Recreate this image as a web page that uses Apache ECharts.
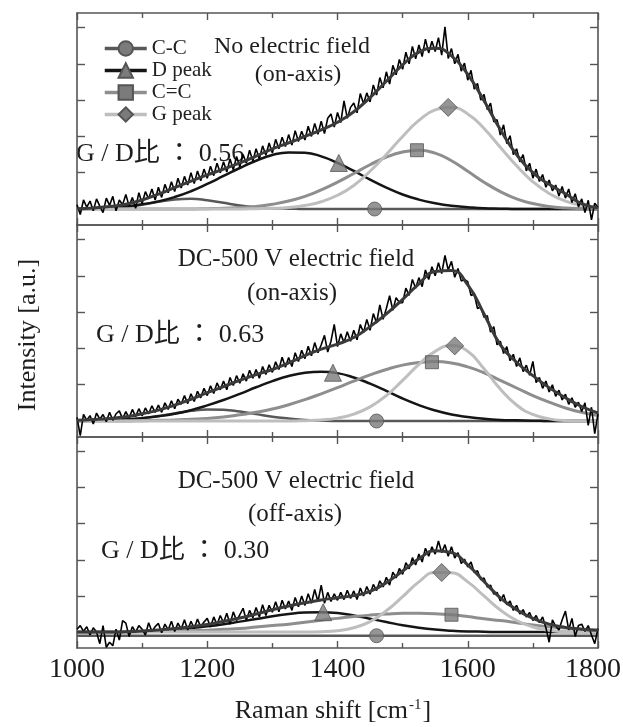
<!DOCTYPE html>
<html><head><meta charset="utf-8">
<script src="https://cdn.jsdelivr.net/npm/echarts@6/dist/echarts.min.js"></script>
<style>html,body{margin:0;padding:0;background:#fff}#c{width:623px;height:727px}</style>
</head><body><div id="c"></div>
<script>
// sample positions (Raman shift, cm-1)
const fitX = []; for (let x = 1000; x <= 1800; x += 25) fitX.push(x);
const specX = []; for (let x = 1000; x <= 1800; x += 5) specX.push(x);
const xTickLabels = [1000, 1200, 1400, 1600, 1800];
const legendNames = ['C-C', 'D peak', 'C=C', 'G peak'];

// ---------- panel 1 : No electric field (on-axis) ----------
const ccTop  = [0.00,0.01,0.03,0.06,0.12,0.20,0.26,0.28,0.24,0.17,0.10,0.05,0.02,0.01,0,0,0,0,0,0,0,0,0,0,0,0,0,0,0,0,0,0,0];
const dTop   = [0.01,0.02,0.04,0.07,0.13,0.21,0.33,0.49,0.69,0.91,1.13,1.33,1.49,1.56,1.55,1.45,1.27,1.05,0.81,0.59,0.40,0.26,0.16,0.09,0.05,0.02,0.01,0,0,0,0,0,0];
const ccdTop = [0,0,0,0,0,0,0,0,0.01,0.02,0.04,0.07,0.13,0.22,0.35,0.53,0.74,0.98,1.22,1.43,1.57,1.62,1.54,1.33,1.04,0.74,0.48,0.28,0.15,0.07,0.03,0.01,0];
const gTop   = [0,0,0,0,0,0,0,0,0,0,0,0.01,0.02,0.04,0.10,0.20,0.38,0.65,1.04,1.50,2.00,2.44,2.73,2.80,2.62,2.22,1.70,1.19,0.75,0.43,0.22,0.10,0.05];
const fitTop = [0.01,0.03,0.07,0.13,0.25,0.41,0.59,0.77,0.94,1.10,1.27,1.46,1.66,1.82,2.00,2.18,2.39,2.68,3.07,3.52,3.97,4.32,4.43,4.22,3.71,2.98,2.19,1.50,1.00,0.68,0.42,0.15,0.03];
const specTop = [0.12,-0.15,0.25,0.05,0.22, -0.05,0.28,0.08,-0.1,0.3, 0.1,0.35,-0.05,0.25,0.12, 0.4,0.08,0.32,0.02,0.45,
  0.15,0.48,0.28,0.55,0.25, 0.6,0.32,0.68,0.45,0.75, 0.48,0.85,0.58,0.9,0.66, 1.0,0.7,1.05,0.78,1.1,
  0.85,1.18,0.92,1.26,1.0, 1.3,1.02,1.38,1.08,1.45, 1.16,1.5,1.26,1.62,1.32, 1.66,1.38,1.74,1.48,1.82,
  1.54,1.92,1.66,1.98,1.72, 2.05,1.76,2.16,1.86,2.14, 1.9,2.28,2.0,2.36,2.06, 2.42,2.08,2.5,2.62,2.26,
  2.66,2.38,2.98,2.5,2.8, 2.92,2.65,3.18,2.9,3.2, 2.95,3.42,3.14,3.62,3.34, 3.78,3.44,3.96,3.7,4.12,
  3.85,4.32,4.0,4.48,4.14, 4.52,4.2,4.68,4.3,4.62, 4.34,4.72,4.24,5.02,4.15, 4.42,4.0,4.26,3.8,4.02,
  3.55,3.82,3.3,3.46,3.0, 3.16,2.74,2.92,2.4,2.46, 2.04,2.32,1.8,2.02,1.5, 1.66,1.3,1.5,1.05,1.26,
  0.85,1.1,0.76,0.95,0.6, 0.8,0.5,0.66,0.36,0.62, 0.3,0.55,0.18,0.42,0.06, 0.28,-0.1,0.24,-0.3,0.16, 0.04];
const marksTop = {'C-C':[1457,0], 'D peak':[1402,1.27], 'C=C':[1522,1.62], 'G peak':[1570,2.80]};

// ---------- panel 2 : DC-500 V (on-axis) ----------
const ccMid  = [0.00,0.01,0.02,0.04,0.08,0.14,0.21,0.28,0.32,0.31,0.26,0.19,0.12,0.07,0.03,0.01,0,0,0,0,0,0,0,0,0,0,0,0,0,0,0,0,0];
const dMid   = [0.01,0.01,0.03,0.05,0.08,0.13,0.20,0.30,0.43,0.58,0.75,0.93,1.10,1.24,1.33,1.36,1.32,1.20,1.03,0.83,0.62,0.44,0.29,0.18,0.11,0.06,0.03,0.02,0.01,0,0,0,0];
const ccdMid = [0,0,0,0,0.01,0.02,0.03,0.05,0.07,0.11,0.17,0.24,0.33,0.45,0.59,0.75,0.92,1.10,1.27,1.42,1.54,1.61,1.64,1.60,1.49,1.33,1.12,0.91,0.70,0.52,0.36,0.24,0.15];
const gMid   = [0,0,0,0,0,0,0,0,0,0,0,0,0,0,0.01,0.03,0.08,0.19,0.39,0.70,1.12,1.56,1.92,2.08,1.92,1.44,0.88,0.44,0.18,0.06,0.01,0,0];
const fitMid = [0.02,0.04,0.07,0.12,0.20,0.30,0.44,0.60,0.78,0.95,1.12,1.28,1.42,1.60,1.80,1.98,2.12,2.30,2.60,2.95,3.35,3.78,4.12,4.15,3.75,2.95,2.10,1.62,1.25,0.92,0.64,0.40,0.22];
const specMid = [0.1,-0.4,0.18,0.02,0.15, -0.08,0.22,0.05,0.18,-0.02, 0.24,0.02,0.2,0.28,0.06, 0.26,0.08,0.32,0.12,0.34,
  0.14,0.36,0.2,0.42,0.24, 0.44,0.24,0.5,0.32,0.56, 0.34,0.6,0.46,0.7,0.48, 0.75,0.54,0.82,0.64,0.9,
  0.7,0.97,0.76,1.05,0.86, 1.1,0.86,1.2,0.98,1.25, 1.04,1.3,1.1,1.4,1.18, 1.42,1.18,1.5,1.28,1.55,
  1.34,1.63,1.42,1.76,1.48, 1.75,1.5,1.88,1.64,1.95, 1.72,2.06,1.8,2.16,1.88, 2.1,2.36,1.9,2.2,2.66,
  2.05,2.4,2.16,2.46,2.2, 2.5,2.24,2.66,2.44,2.8, 2.5,2.96,2.7,3.2,2.8, 3.1,3.45,3.05,3.4,3.26,
  3.26,3.66,3.46,3.9,3.66, 3.95,3.7,4.16,3.9,4.25, 4.0,4.36,4.06,4.56,4.16, 4.4,3.96,4.2,3.86,3.9,
  3.84,3.46,3.5,3.1,3.14, 2.86,2.9,2.45,2.6,2.1, 2.2,1.86,2.05,1.66,1.84, 1.5,1.74,1.36,1.54,1.26,
  1.64,1.06,1.2,0.9,1.1, 0.8,1.0,0.68,0.85,0.58, 0.74,0.46,0.64,0.38,0.52, 0.26,0.5,-0.12,0.38,-0.35, 0.2];
const marksMid = {'C-C':[1460,0], 'D peak':[1393,1.33], 'C=C':[1545,1.62], 'G peak':[1580,2.07]};

// ---------- panel 3 : DC-500 V (off-axis) ----------
const ccBot  = [-0.1,-0.1,-0.1,-0.1,-0.1,-0.1,-0.1,-0.1,-0.1,-0.1,-0.1,-0.1,-0.1,-0.1,-0.1,-0.1,-0.1,-0.1,-0.1,-0.1,-0.1,-0.1,-0.1,-0.1,-0.1,-0.1,-0.1,-0.1,-0.1,-0.1,-0.1,-0.1,-0.1];
const dBot   = [0,0,0,0.01,0.02,0.04,0.07,0.11,0.16,0.22,0.29,0.36,0.44,0.50,0.54,0.55,0.53,0.46,0.37,0.28,0.19,0.12,0.07,0.04,0.02,0.01,0,0,0,0,0,0,0];
const ccdBot = [0,0,0,0,0.01,0.02,0.03,0.04,0.05,0.08,0.10,0.14,0.18,0.22,0.27,0.33,0.38,0.43,0.47,0.50,0.52,0.52,0.51,0.48,0.43,0.37,0.32,0.26,0.20,0.15,0.11,0.08,0.05];
const gBot   = [0,0,0,0,0,0,0,0,0,0,0,0,0,0,0,0.01,0.04,0.12,0.29,0.59,0.98,1.39,1.65,1.64,1.39,1.00,0.61,0.32,0.14,0.05,0.01,0,0];
const fitBot = [0,0,0,0.01,0.03,0.06,0.10,0.15,0.21,0.30,0.39,0.50,0.62,0.72,0.81,0.89,0.95,1.01,1.13,1.37,1.69,2.03,2.25,2.20,1.86,1.40,0.95,0.62,0.38,0.22,0.13,0.08,0.05];
const specBot = [0.08,0.18,0.02,0.15,-0.08, 0.12,0.0,-0.32,0.18,-0.42, -0.28,-0.38,0.08,-0.22,0.32, 0.25,-0.12,0.15,0.0,0.18,
  0.08,-0.08,0.26,0.02,0.15, 0.24,-0.02,0.22,0.06,0.3, 0.02,0.25,0.08,0.34,0.06, 0.3,0.1,0.36,0.14,0.28,
  0.38,0.14,0.42,0.2,0.46, 0.26,0.52,0.22,0.56,0.32, 0.48,0.66,0.32,0.6,0.4, 0.68,0.42,0.76,0.46,0.74,
  0.55,0.84,0.56,0.88,0.64, 0.86,0.6,0.96,0.7,1.0, 0.74,1.06,0.8,1.18,0.84, 1.3,0.8,1.1,0.85,1.06,
  0.88,1.1,0.9,1.16,0.93, 1.14,0.9,1.22,1.0,1.26, 1.05,1.32,1.15,1.42,1.25, 1.52,1.3,1.66,1.5,1.76,
  1.6,1.92,1.75,2.06,1.86, 2.16,1.94,2.32,2.1,2.36, 2.16,2.52,2.2,2.42,2.1, 2.36,2.05,2.2,1.9,2.02,
  1.8,1.94,1.65,1.7,1.45, 1.5,1.25,1.3,1.05,1.1, 0.86,1.04,0.76,0.86,0.6, 0.74,0.5,0.62,0.42,0.54,
  0.32,0.46,0.26,0.42,0.12, -0.28,0.34,0.16,0.06,0.34, 0.58,0.06,0.38,-0.12,0.18, 0.22,0.02,0.18,-0.08,-0.32, 0.1];
const marksBot = {'C-C':[1460,-0.1], 'D peak':[1378,0.55], 'C=C':[1575,0.48], 'G peak':[1560,1.65]};

const panels = [
  {cc:ccTop, d:dTop, ccd:ccdTop, g:gTop, fit:fitTop, spec:specTop, marks:marksTop},
  {cc:ccMid, d:dMid, ccd:ccdMid, g:gMid, fit:fitMid, spec:specMid, marks:marksMid},
  {cc:ccBot, d:dBot, ccd:ccdBot, g:gBot, fit:fitBot, spec:specBot, marks:marksBot}
];

const SERIF = '"Liberation Serif", "Times New Roman", serif';
const SERIF_CJK = '"Liberation Serif", "Noto Sans CJK JP", serif';
const FRAME = '#555555';
const compStyle = {
  'C-C':    {key:'cc',  color:'#585858', width:2.5, symbol:'circle',   size:14},
  'D peak': {key:'d',   color:'#151515', width:2.5, symbol:'triangle', size:17},
  'C=C':    {key:'ccd', color:'#8e8e8e', width:3,   symbol:'rect',     size:13},
  'G peak': {key:'g',   color:'#bebebe', width:3,   symbol:'diamond',  size:18}
};
const markerItem = {color:'#7b7b7b', borderColor:'#555', borderWidth:1};

const gridTops = [13, 225, 437];
const gridH = [212, 212, 211];
const grids = [], xAxes = [], yAxes = [], series = [];
const pair = (xs, ys) => xs.map((x, i) => [x, ys[i]]);

panels.forEach((p, i) => {
  grids.push({left:77, right:25, top:gridTops[i], height:gridH[i], outerBoundsMode:'none', containLabel:false});
  const xBase = {
    type:'value', gridIndex:i, min:1000, max:1800, interval:200,
    axisLine:{show:true, onZero:false, lineStyle:{color:FRAME, width:1.6}},
    axisTick:{show:true, inside:true, length:7, lineStyle:{color:FRAME, width:1.4}},
    minorTick:{show:true, splitNumber:2, length:5, lineStyle:{color:FRAME, width:1.4}},
    splitLine:{show:false}, minorSplitLine:{show:false}
  };
  xAxes.push(Object.assign({}, xBase, {
    position:'bottom',
    axisLabel:{show:i === 2, margin:8, fontSize:28, fontFamily:SERIF, color:'#1a1a1a',
      customValues: xTickLabels,
      formatter: v => v === 1800 ? '{e|' + v + '}' : String(v),
      rich:{e:{fontSize:28, fontFamily:SERIF, color:'#1a1a1a', padding:[0,10,0,0]}}}
  }));
  xAxes.push(Object.assign({}, xBase, {position:'top', axisLabel:{show:false}}));
  const yBase = {
    type:'value', gridIndex:i, min:-0.44, max:5.4,
    axisLine:{show:true, onZero:false, lineStyle:{color:FRAME, width:1.6}},
    axisTick:{show:true, inside:true, length:8, customValues:[0,1,2,3,4,5], lineStyle:{color:FRAME, width:1.4}},
    axisLabel:{show:false}, splitLine:{show:false}
  };
  yAxes.push(Object.assign({}, yBase, {position:'left'}));
  yAxes.push(Object.assign({}, yBase, {position:'right'}));

  legendNames.forEach(name => {
    const st = compStyle[name];
    series.push({
      type:'line', name, xAxisIndex:2*i, yAxisIndex:2*i,
      data: pair(fitX, p[st.key]), smooth:true, showSymbol:false,
      symbol:st.symbol, symbolSize:st.size,
      lineStyle:{color:st.color, width:st.width}, itemStyle:markerItem,
      z:2, silent:true
    });
  });
  series.push({type:'line', name:'spectrum'+i, xAxisIndex:2*i, yAxisIndex:2*i,
    data: pair(specX, p.spec), showSymbol:false, symbol:'none',
    lineStyle:{color:'#000', width:1.6}, z:3, silent:true});
  series.push({type:'line', name:'fit'+i, xAxisIndex:2*i, yAxisIndex:2*i,
    data: pair(fitX, p.fit), smooth:true, showSymbol:false, symbol:'none',
    lineStyle:{color:'#3a3a3a', width:3}, z:4, silent:true});
  legendNames.forEach(name => {
    const st = compStyle[name];
    series.push({type:'scatter', name:name + ' mark' + i, xAxisIndex:2*i, yAxisIndex:2*i,
      data:[p.marks[name]], symbol:st.symbol, symbolSize:st.size, itemStyle:markerItem,
      z:6, silent:true});
  });
});

const txt = (x, y, text, size, extra) => Object.assign({
  type:'text', x, y, silent:true,
  style:{text, fill:'#1e1e1e', font:size + 'px ' + SERIF_CJK, align:'center', verticalAlign:'middle'}
}, extra || {});
const ratio = (x, y, text) => ({type:'text', x, y, silent:true,
  style:{text, fill:'#1e1e1e', font:'26px ' + SERIF_CJK, align:'left', verticalAlign:'middle'}});

const chart = echarts.init(document.getElementById('c'));
chart.setOption({
  animation:false,
  backgroundColor:'#fff',
  grid:grids, xAxis:xAxes, yAxis:yAxes, series,
  legend:{
    data:legendNames, orient:'vertical', left:103, top:38, padding:0,
    itemWidth:42, itemHeight:18, itemGap:1, selectedMode:false,
    lineStyle:{width:3.5},
    textStyle:{fontFamily:SERIF, fontSize:21, color:'#222'}
  },
  graphic:[
    txt(292, 47, 'No electric field', 24),
    txt(298, 75, '(on-axis)', 24),
    ratio(76, 154, 'G / D比 ： 0.56'),
    txt(296, 259, 'DC-500 V electric field', 25),
    txt(292, 293, '(on-axis)', 25),
    ratio(96, 335, 'G / D比 ： 0.63'),
    txt(296, 481, 'DC-500 V electric field', 25),
    txt(295, 514, '(off-axis)', 25),
    ratio(101, 551, 'G / D比 ： 0.30'),
    {type:'text', x:333, y:711, silent:true, style:{
      text:'Raman shift [cm{sup|-1}]', fill:'#1e1e1e', font:'26px ' + SERIF, align:'center', verticalAlign:'middle',
      rich:{sup:{fontSize:15, fontFamily:SERIF, fill:'#1e1e1e', verticalAlign:'top', padding:[0,1,10,1]}}}},
    {type:'text', x:28, y:335, rotation:Math.PI/2, silent:true, style:{
      text:'Intensity [a.u.]', fill:'#1e1e1e', font:'26px ' + SERIF, align:'center', verticalAlign:'middle'}}
  ]
});
</script></body></html>
